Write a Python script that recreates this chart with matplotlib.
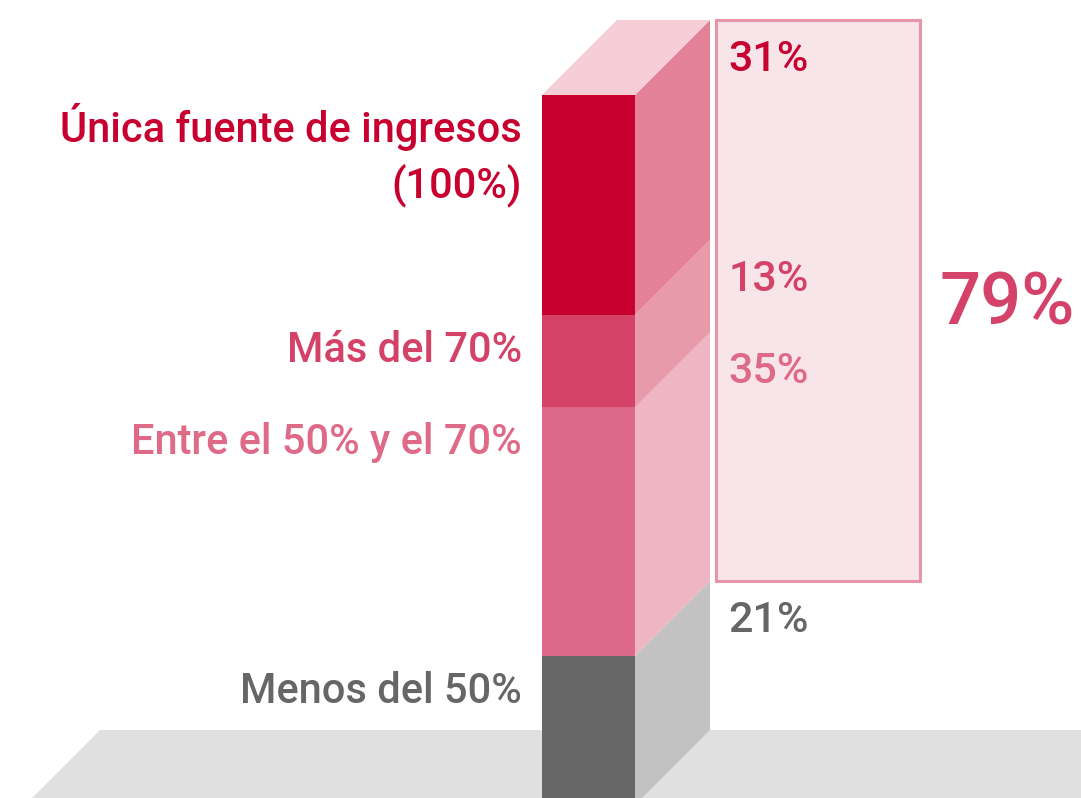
import numpy as np
import matplotlib.pyplot as plt
from matplotlib.patches import Polygon, Rectangle

# Datos (de abajo hacia arriba)
categories = ["Menos del 50%", "Entre el 50% y el 70%", "Más del 70%", "Única fuente de ingresos\n(100%)"]
values = [21, 35, 13, 31]
value_labels = ["21%", "35%", "13%", "31%"]
total_label = "79%"
total_from = 1  # el recuadro agrupa desde el segundo segmento hacia arriba

front_colors = ["#676767", "#de6887", "#d44267", "#c8002f"]
side_colors = ["#c2c2c2", "#efb5c2", "#e899aa", "#e28197"]
text_colors = ["#666666", "#df6a88", "#d44267", "#c8002f"]
top_color = "#f4cdd6"

plt.rcParams['font.family'] = ['Roboto', 'DejaVu Sans']

# Escala: pixeles por punto porcentual y geometria de la barra
PX = 7.1
TOP_PX = 95
W, H = 1081, 798
bar_x0, bar_x1 = 542, 635
DX = 75
DY = DX / PX

fig = plt.figure(figsize=(W / 100, H / 100), dpi=100)
ax = fig.add_axes([0, 0, 1, 1])
ax.set_xlim(0, W)
ax.set_ylim(100 - (H - TOP_PX) / PX, 100 + TOP_PX / PX)
ax.axis("off")

# Suelo
floor_depth = 25
ax.add_patch(Polygon([(100, DY), (1200, DY),
                      (1200 - floor_depth * PX, DY - floor_depth),
                      (100 - floor_depth * PX, DY - floor_depth)],
                     closed=True, facecolor="#e0e0e0", lw=0, zorder=1))

bottoms = np.concatenate([[0], np.cumsum(values)[:-1]])
tops = bottoms + np.array(values)

for i, (b, t) in enumerate(zip(bottoms, tops)):
    # cara frontal
    ax.add_patch(Rectangle((bar_x0, b), bar_x1 - bar_x0, t - b,
                           facecolor=front_colors[i], lw=0, zorder=3))
    # cara lateral
    ax.add_patch(Polygon([(bar_x1, b), (bar_x1 + DX, b + DY),
                          (bar_x1 + DX, t + DY), (bar_x1, t)],
                         closed=True, facecolor=side_colors[i], lw=0, zorder=2))

# tapa superior
ax.add_patch(Polygon([(bar_x0, tops[-1]), (bar_x1, tops[-1]),
                      (bar_x1 + DX, tops[-1] + DY), (bar_x0 + DX, tops[-1] + DY)],
                     closed=True, facecolor=top_color, lw=0, zorder=2))

# recuadro del total
box_x0, box_x1 = bar_x1 + DX + 6, 920
box_b = bottoms[total_from] + DY
box_t = tops[-1] + DY
ax.add_patch(Rectangle((box_x0, box_b), box_x1 - box_x0, box_t - box_b,
                       facecolor="#f8e5ea", edgecolor="#e895a9", lw=2.2, zorder=2))

# etiquetas a la izquierda y valores a la derecha
for i, (b, t) in enumerate(zip(bottoms, tops)):
    for k, line in enumerate(categories[i].split("\n")):
        ax.text(522, t - (47 + 55 * k) / PX, line, ha="right", va="baseline",
                fontsize=30, fontweight="medium", color=text_colors[i], zorder=5)
    ax.text(728, t + DY - 51 / PX, value_labels[i], ha="left", va="baseline",
            fontsize=31, fontweight="medium", color=text_colors[i], zorder=5)

ax.text(940, (box_b + box_t) / 2 - 24 / PX, total_label, ha="left", va="baseline",
        fontsize=52, fontweight="medium", color="#d4426a", zorder=5)

fig.savefig("out.png", dpi=100, facecolor="white")
